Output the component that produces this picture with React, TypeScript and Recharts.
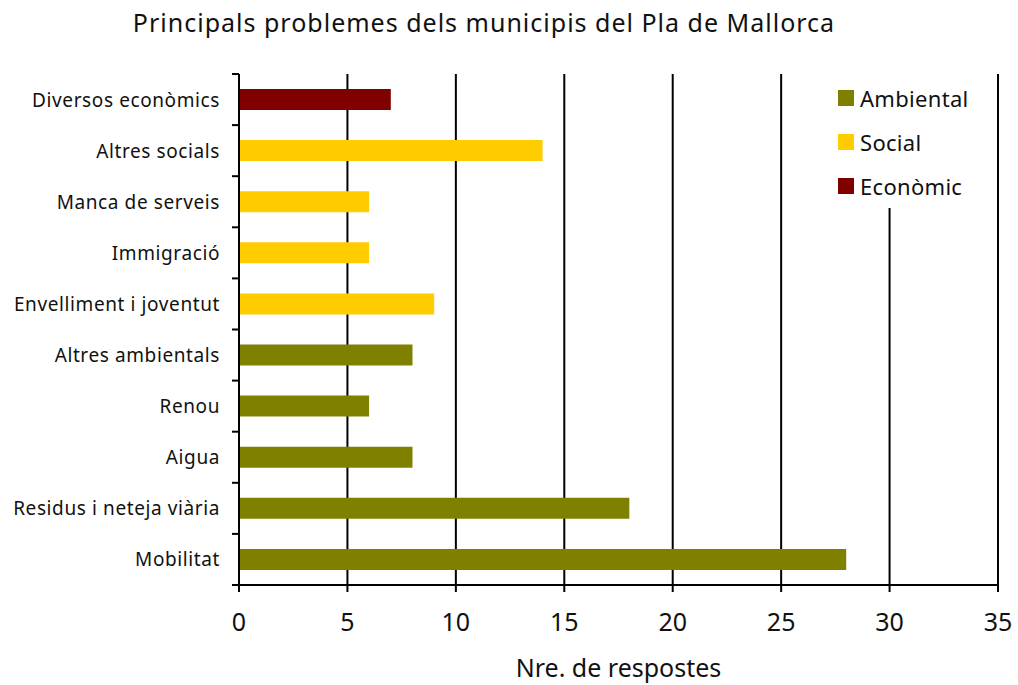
import { BarChart, Bar, XAxis, YAxis, CartesianGrid, Cell } from "recharts";

const categories = [
  "Diversos econòmics",
  "Altres socials",
  "Manca de serveis",
  "Immigració",
  "Envelliment i joventut",
  "Altres ambientals",
  "Renou",
  "Aigua",
  "Residus i neteja viària",
  "Mobilitat",
];
const values = [7, 14, 6, 6, 9, 8, 6, 8, 18, 28];
const groups = [
  "Econòmic",
  "Social",
  "Social",
  "Social",
  "Social",
  "Ambiental",
  "Ambiental",
  "Ambiental",
  "Ambiental",
  "Ambiental",
];
const groupNames = ["Ambiental", "Social", "Econòmic"];
const groupColors = ["#808000", "#FFCC00", "#800000"];
const xTicks = [0, 5, 10, 15, 20, 25, 30, 35];

const data = categories.map((name, i) => ({ name, value: values[i], group: groups[i] }));

const W = 1018;
const H = 685;
const MARGIN = { top: 74, right: 20, bottom: 0, left: 0 };
const X_AXIS_H = 100;
const BAND = (H - MARGIN.top - MARGIN.bottom - X_AXIS_H) / categories.length;
const FONT = "'Noto Sans', 'DejaVu Sans', sans-serif";

const colorOf = (g: string) => groupColors[groupNames.indexOf(g)];

function CategoryTick(props: any) {
  const { x, y, payload, index } = props;
  return (
    <g>
      <line x1={x - 7} x2={x} y1={y - BAND / 2} y2={y - BAND / 2} stroke="#000" strokeWidth={2} />
      {index === categories.length - 1 && (
        <line x1={x - 7} x2={x} y1={y + BAND / 2} y2={y + BAND / 2} stroke="#000" strokeWidth={2} />
      )}
      <text
        x={x - 19}
        y={y}
        dy={7}
        textAnchor="end"
        fontSize={19}
        letterSpacing={0.6}
        fill="#111"
        fontFamily={FONT}
      >
        {payload.value}
      </text>
    </g>
  );
}

function GroupLegend() {
  return (
    <div
      style={{
        position: "absolute",
        left: 820,
        top: 74,
        background: "#fff",
        width: 176,
        height: 134,
        paddingTop: 2,
        boxSizing: "border-box",
      }}
    >
      {groupNames.map((g, i) => (
        <div key={g} style={{ display: "flex", alignItems: "center", height: 44, paddingLeft: 18 }}>
          <span style={{ width: 16, height: 16, background: groupColors[i], marginRight: 6 }} />
          <span style={{ fontSize: 22, color: "#111", fontFamily: FONT, letterSpacing: 0.3 }}>{g}</span>
        </div>
      ))}
    </div>
  );
}

export default function App() {
  return (
    <div style={{ position: "absolute", left: 0, top: 0, width: W, height: H, background: "#fff" }}>
      <div
        style={{
          position: "absolute",
          left: 0,
          top: 7,
          width: 968,
          textAlign: "center",
          fontSize: 25,
          lineHeight: "30px",
          letterSpacing: 1,
          color: "#111",
          fontFamily: FONT,
        }}
      >
        Principals problemes dels municipis del Pla de Mallorca
      </div>
      <BarChart width={W} height={H} data={data} layout="vertical" margin={MARGIN} barSize={21}>
        <CartesianGrid horizontal={false} stroke="#000" strokeWidth={2} />
        <XAxis
          type="number"
          domain={[0, 35]}
          ticks={xTicks}
          interval={0}
          height={X_AXIS_H}
          axisLine={{ stroke: "#000", strokeWidth: 2 }}
          tickLine={{ stroke: "#000", strokeWidth: 2 }}
          tickSize={7}
          tickMargin={21}
          tick={{ fontSize: 25, fill: "#111", fontFamily: FONT }}
          label={{
            value: "Nre. de respostes",
            position: "insideBottom",
            offset: 8,
            fontSize: 25,
            fill: "#111",
            fontFamily: FONT,
          }}
        />
        <YAxis
          type="category"
          dataKey="name"
          width={239}
          interval={0}
          tickLine={false}
          tickSize={0}
          tickMargin={0}
          axisLine={{ stroke: "#000", strokeWidth: 2 }}
          tick={<CategoryTick />}
        />
        <Bar dataKey="value" isAnimationActive={false}>
          {data.map((d, i) => (
            <Cell key={i} fill={colorOf(d.group)} />
          ))}
        </Bar>
      </BarChart>
      <GroupLegend />
    </div>
  );
}
